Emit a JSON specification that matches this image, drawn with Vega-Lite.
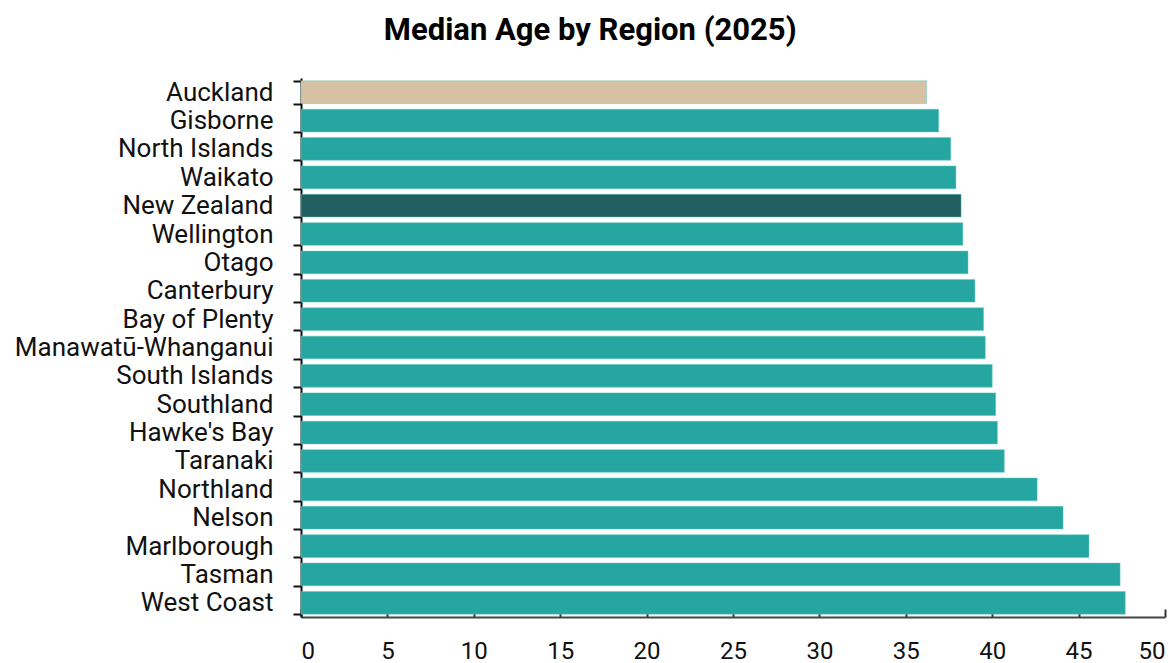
{
  "$schema": "https://vega.github.io/schema/vega-lite/v6.json",
  "width": 1173,
  "height": 663,
  "autosize": {"type": "fit", "contains": "padding"},
  "padding": {"left": 14, "right": 7, "top": 15, "bottom": 0},
  "background": "white",
  "title": {
    "text": "Median Age by Region (2025)",
    "font": "Roboto",
    "fontSize": 31,
    "fontWeight": "bold",
    "color": "#000000",
    "anchor": "middle",
    "frame": "bounds",
    "offset": 18
  },
  "config": {
    "view": {"stroke": null},
    "font": "Roboto"
  },
  "data": {
    "values": [
      {"region": "Auckland", "age": 36.2, "group": "Auckland"},
      {"region": "Gisborne", "age": 36.9, "group": "Other"},
      {"region": "North Islands", "age": 37.6, "group": "Other"},
      {"region": "Waikato", "age": 37.9, "group": "Other"},
      {"region": "New Zealand", "age": 38.2, "group": "New Zealand"},
      {"region": "Wellington", "age": 38.3, "group": "Other"},
      {"region": "Otago", "age": 38.6, "group": "Other"},
      {"region": "Canterbury", "age": 39.0, "group": "Other"},
      {"region": "Bay of Plenty", "age": 39.5, "group": "Other"},
      {"region": "Manawatū-Whanganui", "age": 39.6, "group": "Other"},
      {"region": "South Islands", "age": 40.0, "group": "Other"},
      {"region": "Southland", "age": 40.2, "group": "Other"},
      {"region": "Hawke's Bay", "age": 40.3, "group": "Other"},
      {"region": "Taranaki", "age": 40.7, "group": "Other"},
      {"region": "Northland", "age": 42.6, "group": "Other"},
      {"region": "Nelson", "age": 44.1, "group": "Other"},
      {"region": "Marlborough", "age": 45.6, "group": "Other"},
      {"region": "Tasman", "age": 47.4, "group": "Other"},
      {"region": "West Coast", "age": 47.7, "group": "Other"}
    ]
  },
  "mark": {"type": "bar", "stroke": "#5cc8bf", "strokeWidth": 0.6, "strokeOpacity": 0.8},
  "encoding": {
    "y": {
      "field": "region",
      "type": "nominal",
      "sort": null,
      "scale": {"paddingInner": 0.2, "paddingOuter": 0.1},
      "axis": {
        "title": null,
        "labelFontSize": 26,
        "labelLimit": 400,
        "labelColor": "#111111",
        "labelPadding": 20,
        "tickBand": "extent",
        "tickSize": 8,
        "tickWidth": 2,
        "tickColor": "#111111",
        "domainColor": "#111111",
        "domainWidth": 2
      }
    },
    "x": {
      "field": "age",
      "type": "quantitative",
      "scale": {"domain": [0, 50], "nice": false},
      "axis": {
        "title": null,
        "values": [0, 5, 10, 15, 20, 25, 30, 35, 40, 45, 50],
        "grid": false,
        "labelFontSize": 24,
        "labelColor": "#111111",
        "labelPadding": 30,
        "tickSize": -8,
        "tickWidth": 2,
        "tickColor": "#333333",
        "domainColor": "#444444",
        "domainWidth": 2
      }
    },
    "color": {
      "field": "group",
      "type": "nominal",
      "scale": {
        "domain": ["Auckland", "New Zealand", "Other"],
        "range": ["#D6C1A4", "#225F61", "#26A6A0"]
      },
      "legend": null
    }
  }
}
